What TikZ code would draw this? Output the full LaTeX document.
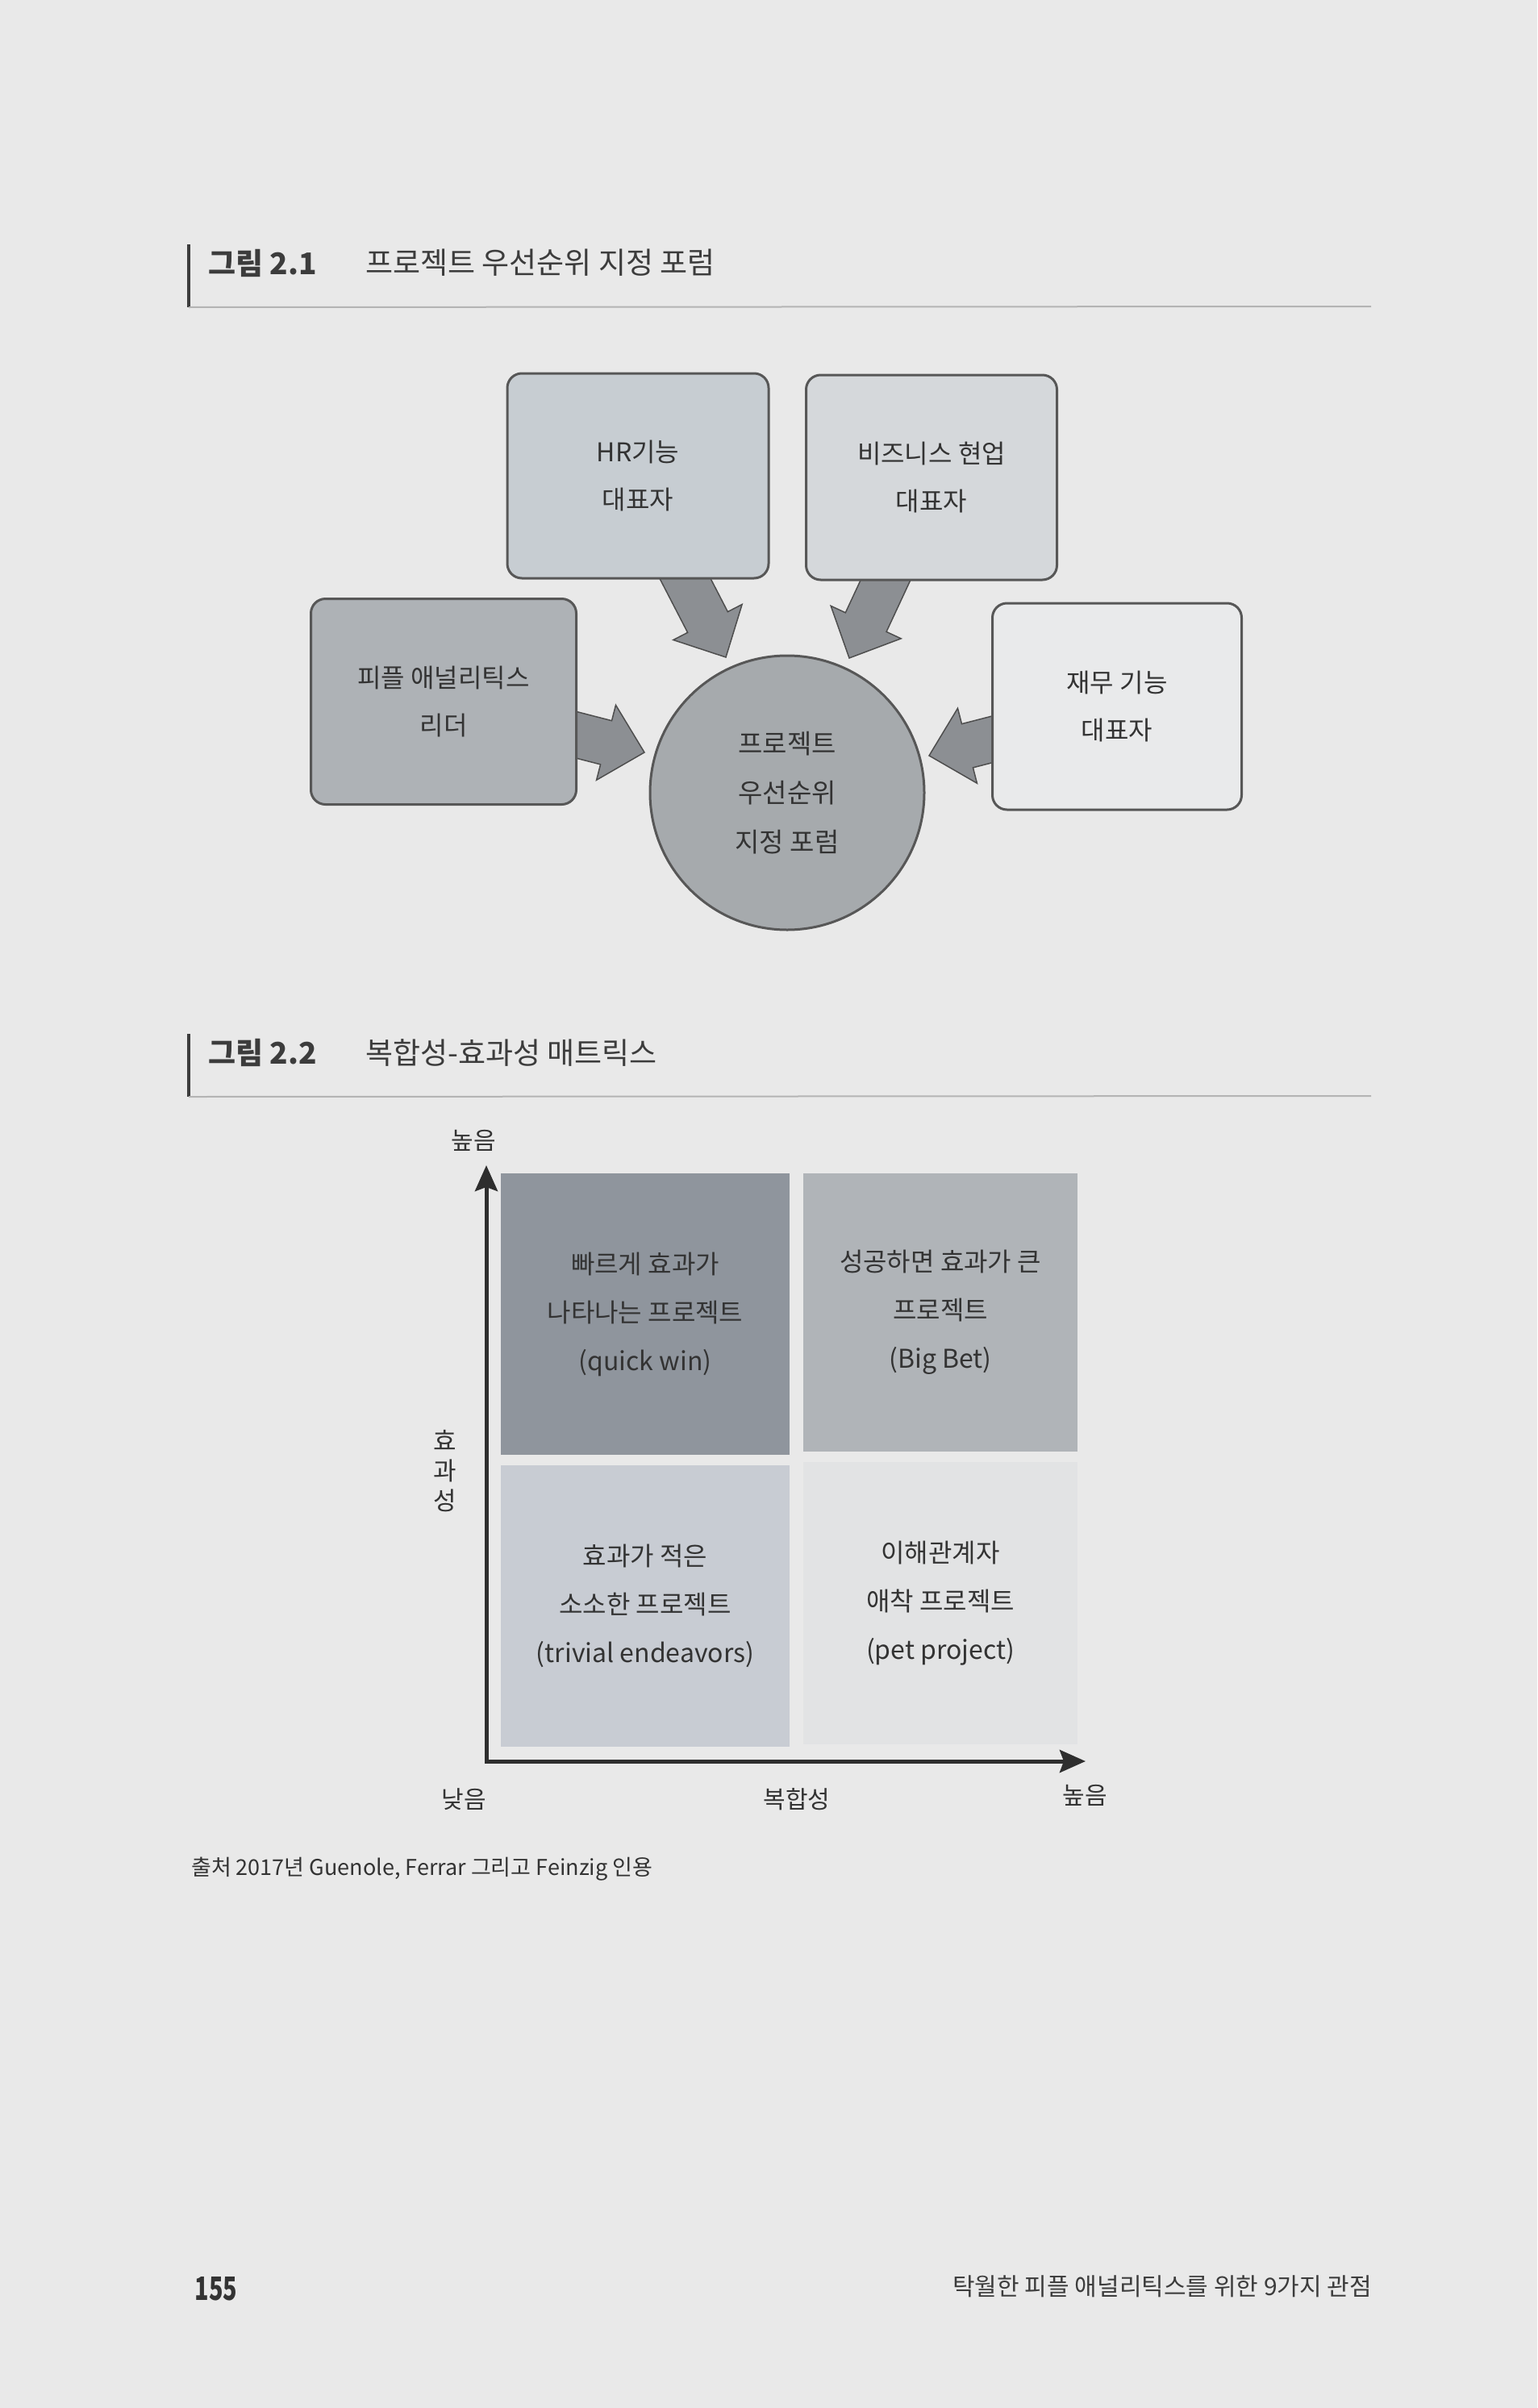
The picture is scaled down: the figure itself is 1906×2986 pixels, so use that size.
\documentclass[tikz,border=0pt]{standalone}
\usepackage{fontspec}
\usepackage{graphicx}
\setmainfont{Noto Sans CJK KR}
\usetikzlibrary{calc,arrows.meta}
\definecolor{pagebg}{HTML}{E9E9E9}
\definecolor{txt}{HTML}{333333}
\definecolor{captxt}{HTML}{3C3C3C}
\definecolor{rulec}{HTML}{B4B4B4}
\definecolor{boxline}{HTML}{575757}
\definecolor{hrfill}{HTML}{C7CDD2}
\definecolor{bizfill}{HTML}{D5D8DB}
\definecolor{pafill}{HTML}{AEB2B6}
\definecolor{finfill}{HTML}{E9EAEB}
\definecolor{forumfill}{HTML}{A6AAAD}
\definecolor{arrfill}{HTML}{8C8F93}
\definecolor{arrline}{HTML}{4E4E4E}
\definecolor{qtl}{HTML}{8F959D}
\definecolor{qtr}{HTML}{B0B4B8}
\definecolor{qbl}{HTML}{C8CCD3}
\definecolor{qbr}{HTML}{E2E3E4}
\definecolor{axisc}{HTML}{2E2E2E}
\newcommand\myfs[2]{\fontsize{#1}{#2}\selectfont}
\newcommand\blockarr[2]{%
  \path ($(#2)!49pt!(#1)$) coordinate (hb);
  \draw[arrowbody] ($(#1)!28pt!90:(#2)$) -- ($(hb)!28pt!90:(#2)$) -- ($(hb)!48pt!90:(#2)$)
    -- (#2) -- ($(hb)!48pt!-90:(#2)$) -- ($(hb)!28pt!-90:(#2)$) -- ($(#1)!28pt!-90:(#2)$) -- cycle;}
\tikzset{
  box/.style={draw=boxline, line width=3pt, rounded corners=18pt, align=center,
    text=txt, font=\myfs{32}{59}, inner sep=0pt},
  forumbox/.style={circle, draw=boxline, line width=3pt, fill=forumfill, align=center,
    text=txt, font=\myfs{33}{61}, inner sep=0pt, minimum size=340pt},
  arrowbody/.style={fill=arrfill, draw=arrline, line width=1.5pt, line join=miter},
  quad/.style={draw=none, inner sep=0pt, align=center, text=txt, font=\myfs{32}{60}},
  capbold/.style={font=\bfseries\myfs{37}{44}, text=captxt, anchor=west, inner sep=0pt},
  captitle/.style={font=\myfs{37}{44}, text=captxt, anchor=west, inner sep=0pt},
  capbar/.style={draw=captxt, line width=4pt},
  caprule/.style={draw=rulec, line width=2pt},
  axislab/.style={font=\myfs{30}{36}, text=txt, inner sep=0pt},
  axis/.style={draw=axisc, line width=5pt, line join=miter,
    {Stealth[length=32pt,width=28pt,inset=5pt]}-{Stealth[length=32pt,width=28pt,inset=5pt]}}
}
\begin{document}
\begin{tikzpicture}[x=1pt,y=-1pt]
\useasboundingbox (0,0) rectangle (1906,2986);
\fill[pagebg] (0,0) rectangle (1906,2986);

% ---------- Figure 2.1 caption ----------
\coordinate (b1t) at (234,303);
\coordinate (b1b) at (234,381);
\coordinate (r1e) at (1700,380);
\draw[capbar] (b1t) -- (b1b);
\draw[caprule] (b1b) -- (r1e);
\node[capbold] (cap1a) at (258,326) {그림 2.1};
\node[captitle] (cap1b) at (453,326) {프로젝트 우선순위 지정 포럼};

% ---------- Figure 2.1 arrows ----------
\coordinate (hrS) at (840,699);   \coordinate (hrT) at (900,815);
\coordinate (bizS) at (1107,700); \coordinate (bizT) at (1053,816);
\coordinate (paS) at (694,906);   \coordinate (paT) at (799,933);
\coordinate (finS) at (1249,912); \coordinate (finT) at (1152,937);
\blockarr{hrS}{hrT}
\blockarr{bizS}{bizT}
\blockarr{paS}{paT}
\blockarr{finS}{finT}

% ---------- Figure 2.1 boxes ----------
\node[box, fill=hrfill, minimum width=324pt, minimum height=254pt] (hr) at (791,590) {HR기능\\대표자};
\node[box, fill=bizfill, minimum width=311pt, minimum height=254pt] (biz) at (1155,592) {비즈니스 현업\\대표자};
\node[box, fill=pafill, minimum width=329pt, minimum height=255pt] (pa) at (550,870) {피플 애널리틱스\\리더};
\node[box, fill=finfill, minimum width=309pt, minimum height=256pt] (fin) at (1385,876) {재무 기능\\대표자};
\node[forumbox] (forum) at (976,983) {프로젝트\\우선순위\\지정 포럼};

% ---------- Figure 2.2 caption ----------
\coordinate (b2t) at (234,1282);
\coordinate (b2b) at (234,1360);
\coordinate (r2e) at (1700,1359);
\draw[capbar] (b2t) -- (b2b);
\draw[caprule] (b2b) -- (r2e);
\node[capbold] (cap2a) at (258,1305) {그림 2.2};
\node[captitle] (cap2b) at (453,1305) {복합성-효과성 매트릭스};

% ---------- Figure 2.2 matrix ----------
\node[quad, fill=qtl, minimum width=358pt, minimum height=349pt] (tl) at (800,1629.5) {빠르게 효과가\\나타나는 프로젝트\\(quick win)};
\node[quad, fill=qtr, minimum width=340pt, minimum height=345pt] (tr) at (1166,1627.5) {성공하면 효과가 큰\\프로젝트\\(Big Bet)};
\node[quad, fill=qbl, minimum width=358pt, minimum height=349pt] (bl) at (800,1991.5) {효과가 적은\\소소한 프로젝트\\(trivial endeavors)};
\node[quad, fill=qbr, minimum width=340pt, minimum height=350pt] (br) at (1166,1988) {이해관계자\\애착 프로젝트\\(pet project)};

\coordinate (ytip) at (603,1445);
\coordinate (corner) at (603,2184);
\coordinate (xtip) at (1346,2184);
\draw[axis] (ytip) -- (corner) -- (xtip);

\node[axislab] (yhigh) at (587,1414) {높음};
\node[axislab, align=center, font=\myfs{31}{37}] (ylab) at (552,1824) {효\\과\\성};
\node[axislab] (xlow) at (575,2231) {낮음};
\node[axislab] (xlab) at (988,2231) {복합성};
\node[axislab] (xhigh) at (1345,2226) {높음};

\node[font=\myfs{27}{32}, text=txt, anchor=west, inner sep=0pt] (src) at (237,2318) {출처 2017년 Guenole, Ferrar 그리고 Feinzig 인용};

% ---------- Footer ----------
\node[font=\bfseries\myfs{40}{48}, text=txt, inner sep=0pt] (pgno) at (268,2838) {\scalebox{0.72}[1]{155}};
\node[font=\myfs{30}{36}, text=captxt, anchor=east, inner sep=0pt] (runhead) at (1701,2835) {탁월한 피플 애널리틱스를 위한 9가지 관점};
\end{tikzpicture}
\end{document}
